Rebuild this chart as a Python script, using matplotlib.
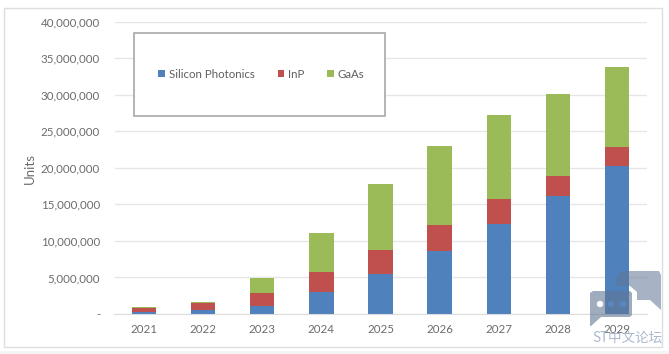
import matplotlib
matplotlib.use('Agg')
from matplotlib import pyplot as plt
from matplotlib.patches import Rectangle, PathPatch, Circle
from matplotlib.path import Path
from matplotlib.transforms import Affine2D
import numpy as np

plt.rcParams['font.family'] = ['Lato', 'DejaVu Sans']

years = ['2021', '2022', '2023', '2024', '2025', '2026', '2027', '2028', '2029']
silicon = [300000, 500000, 1100000, 3000000, 5500000, 8600000, 12300000, 16100000, 20300000]
inp = [550000, 1050000, 1800000, 2800000, 3200000, 3600000, 3400000, 2800000, 2600000]
gaas = [100000, 150000, 2050000, 5300000, 9100000, 10800000, 11500000, 11200000, 10900000]
yticks = [0, 5000000, 10000000, 15000000, 20000000, 25000000, 30000000, 35000000, 40000000]
ylabels = ['-', '5,000,000', '10,000,000', '15,000,000', '20,000,000', '25,000,000',
           '30,000,000', '35,000,000', '40,000,000']

W, H = 669, 354
fig = plt.figure(figsize=(W/100, H/100), dpi=100, facecolor='white')
# pixel coords of the picture, y going down
px = Affine2D().scale(1/W, -1/H).translate(0, 1) + fig.transFigure

ax = fig.add_axes([114.5/W, 1-314/H, 532/W, 292.5/H])
x = np.arange(len(years))
w = 0.41
s = np.array(silicon)
r = np.array(inp)
g = np.array(gaas)
b1 = ax.bar(x, s, w, color='#4f81bd', label='Silicon Photonics', zorder=2)
b2 = ax.bar(x, r, w, bottom=s, color='#c0504d', label='InP', zorder=2)
b3 = ax.bar(x, g, w, bottom=s+r, color='#9bbb59', label='GaAs', zorder=2)

ax.set_xlim(-0.5, 8.5)
ax.set_ylim(0, 40000000)
ax.set_xticks(x)
ax.set_xticklabels(years)
ax.set_yticks(yticks)
ax.set_yticklabels(ylabels)
ax.tick_params(length=0, labelsize=8.3, labelcolor='#6b6b6b')
ax.tick_params(axis='x', pad=7.5)
ax.tick_params(axis='y', pad=10.4)
ax.grid(axis='y', color='#e6e6e6', lw=1, zorder=0)
ax.set_axisbelow(True)
for sp in ['top', 'left', 'right']:
    ax.spines[sp].set_visible(False)
ax.spines['bottom'].set_color('#dcdcdc')
ax.set_ylabel('Units', fontsize=9.5, color='#6b6b6b')
ax.yaxis.set_label_coords(36/W, 1-168/H, transform=fig.transFigure)

# legend box sits over the gridlines
ax.add_patch(Rectangle((133.5, 32.5), 251.5, 83.5, transform=px, fc='white', ec='#a8a8a8',
                       lw=1.2, zorder=4, clip_on=False))
leg = ax.legend(handles=[b1, b2, b3], ncol=3, frameon=False, fontsize=8.3,
                loc='center', bbox_to_anchor=(261.5/W, 1-74/H), bbox_transform=fig.transFigure,
                handlelength=0.55, handleheight=0.55, handletextpad=0.35, columnspacing=2.0)
leg.set_zorder(5)
for t in leg.get_texts():
    t.set_color('#5f5f5f')

# outer frame and page strip
fig.add_artist(Rectangle((3.5, 7.5), 658, 339, transform=px, fc='none', ec='#dedede', lw=1))
fig.add_artist(Rectangle((0, 351), W, 3, transform=px, fc='#f4f4f4', ec='none'))

# watermark
wm = '#5f7694'
back = [(616, 283), (616, 277), (621, 271), (627, 271), (654, 271), (659, 271), (661, 275), (661, 280),
        (661, 310), (650, 300), (637, 300), (637, 292), (630, 286), (622, 286), (616, 286)]
front = [(590, 297), (590, 293), (593, 291), (597, 291), (626, 291), (630, 291), (632, 293), (632, 297),
         (632, 311), (632, 315), (630, 317), (626, 317), (601, 317), (591, 326), (590, 326)]
fig.add_artist(PathPatch(Path(back), transform=px, fc=wm, ec='none', alpha=0.55, zorder=6))
fig.add_artist(PathPatch(Path(front), transform=px, fc=wm, ec='none', alpha=0.6, zorder=6))
for dx in [600, 611, 623]:
    dot = '#ffffff' if dx == 600 else '#5b86bd'
    fig.add_artist(Circle((dx, 304), 3.2, transform=px, fc=dot, ec='none', zorder=7))
fig.text(592/W, 1-338/H, 'ST中文论坛', fontsize=9.7, color='#a9b8cd', va='center', ha='left', zorder=7,
         family=['Noto Sans CJK SC', 'DejaVu Sans'])

plt.savefig('out.png', dpi=100)
plt.close()
